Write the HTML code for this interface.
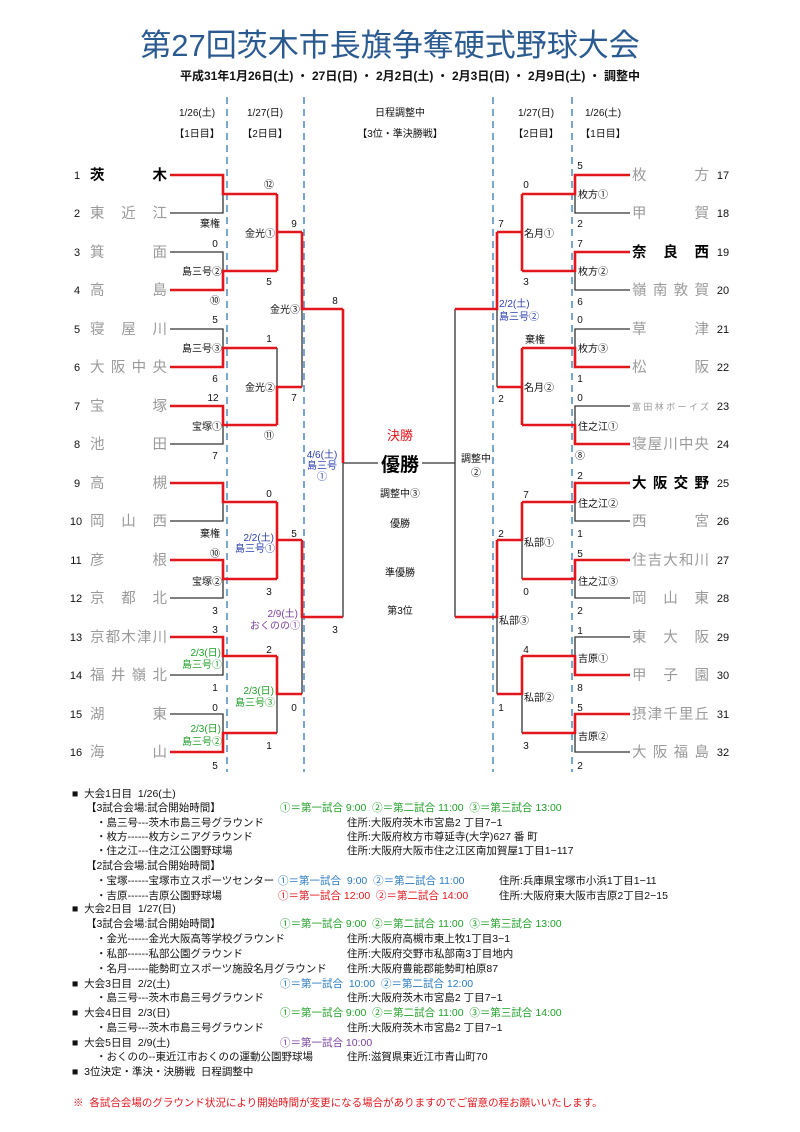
<!DOCTYPE html>
<html><head><meta charset="utf-8">
<style>
html,body{margin:0;padding:0;background:#fff;}
svg{display:block;}
text{font-family:"Liberation Sans","Noto Sans CJK JP",sans-serif;}
.s{font-size:10px;fill:#111;}
.l{font-size:10.5px;fill:#111;}
.l text{white-space:pre;}
.n{font-size:14.5px;fill:#9a9a9a;}
.nb{font-size:14.5px;fill:#000;font-weight:bold;}
.num{font-size:11px;fill:#111;}
.k{stroke:#333;stroke-width:1.3;fill:none;}
.r{stroke:#e3161c;stroke-width:2.6;fill:none;}
.d{stroke:#5b8fc7;stroke-width:1.6;stroke-dasharray:7,5;}
.bl{fill:#2a3fb0;font-size:10px;}
.gr{fill:#22a02a;font-size:10px;}
.pu{fill:#7a3fa0;font-size:10px;}
.g{fill:#22a02a;}
.b{fill:#2a7ac0;}
.rd{fill:#e3161c;}
.pp{fill:#7a3fa0;}
</style></head><body>
<svg width="800" height="1132" viewBox="0 0 800 1132" xmlns="http://www.w3.org/2000/svg">
<text x="390" y="56" text-anchor="middle" style="font-size:31px;fill:#2a5a8f;font-weight:normal">第27回茨木市長旗争奪硬式野球大会</text>
<text x="410" y="80" text-anchor="middle" style="font-size:12px;font-weight:bold;fill:#111">平成31年1月26日(土) ・ 27日(日) ・ 2月2日(土) ・ 2月3日(日) ・ 2月9日(土) ・ 調整中</text>

<g class="s" text-anchor="middle">
<text x="197" y="116">1/26(土)</text><text x="197" y="137">【1日目】</text>
<text x="265" y="116">1/27(日)</text><text x="265" y="137">【2日目】</text>
<text x="400" y="116">日程調整中</text><text x="400" y="137">【3位・準決勝戦】</text>
<text x="536" y="116">1/27(日)</text><text x="536" y="137">【2日目】</text>
<text x="603" y="116">1/26(土)</text><text x="603" y="137">【1日目】</text>
</g>

<line class="d" x1="227" y1="97" x2="227" y2="772"/>
<line class="d" x1="304" y1="97" x2="304" y2="772"/>
<line class="d" x1="493" y1="97" x2="493" y2="772"/>
<line class="d" x1="572" y1="97" x2="572" y2="772"/>

<g class="k">
<path d="M170 213H223V194"/><path d="M170 252H223V271"/><path d="M170 329H223V348"/><path d="M170 444H223V425"/>
<path d="M170 521H223V502"/><path d="M170 598H223V579"/><path d="M170 675H223V656"/><path d="M170 714H223V733"/>
<path d="M277 348V387"/><path d="M277 694V733"/>
<path d="M302 309V387"/><path d="M302 617V694"/>
<path d="M343 463V617"/><path d="M343 463H378"/>
<path d="M630 213H575V194"/><path d="M630 290H575V271"/><path d="M630 329H575V348"/><path d="M630 406H575V425"/>
<path d="M630 521H575V502"/><path d="M630 598H575V579"/><path d="M630 637H575V656"/><path d="M630 752H575V733"/>
<path d="M522 540V579"/><path d="M522 694V733"/>
<path d="M497 309V387"/><path d="M497 617V694"/>
<path d="M455 309V617"/><path d="M422 463H455"/>
</g>
<g class="r">
<path d="M170 175H223V194H277"/><path d="M170 290H223V271H277"/><path d="M170 367H223V348H277"/><path d="M170 406H223V425H277"/>
<path d="M170 483H223V502H277"/><path d="M170 560H223V579H277"/><path d="M170 637H223V656H277"/><path d="M170 752H223V733H277"/>
<path d="M277 194V271"/><path d="M277 232H302"/><path d="M277 425V387H302"/><path d="M277 502V579"/><path d="M277 540H302"/><path d="M277 656V694H302"/>
<path d="M302 232V309H343"/><path d="M302 540V617H343"/><path d="M343 309V463"/>
<path d="M630 175H575V194H522"/><path d="M630 252H575V271H522"/><path d="M630 367H575V348H522"/><path d="M630 444H575V425H522"/>
<path d="M630 483H575V502H522"/><path d="M630 560H575V579H522"/><path d="M630 675H575V656H522"/><path d="M630 714H575V733H522"/>
<path d="M522 194V271"/><path d="M522 232H497"/><path d="M522 348V425"/><path d="M522 387H497"/><path d="M522 502V540H497"/><path d="M522 656V694H497"/>
<path d="M497 232V309H455"/><path d="M497 540V617H455"/>
</g>

<g class="num" text-anchor="middle">
<text x="77" y="179">1</text><text x="77" y="217">2</text><text x="77" y="256">3</text><text x="77" y="294">4</text>
<text x="77" y="333">5</text><text x="77" y="371">6</text><text x="77" y="410">7</text><text x="77" y="448">8</text>
<text x="77" y="487">9</text><text x="76" y="525">10</text><text x="76" y="564">11</text><text x="76" y="602">12</text>
<text x="76" y="641">13</text><text x="76" y="679">14</text><text x="76" y="718">15</text><text x="76" y="756">16</text>
<text x="723" y="179">17</text><text x="723" y="217">18</text><text x="723" y="256">19</text><text x="723" y="294">20</text>
<text x="723" y="333">21</text><text x="723" y="371">22</text><text x="723" y="410">23</text><text x="723" y="448">24</text>
<text x="723" y="487">25</text><text x="723" y="525">26</text><text x="723" y="564">27</text><text x="723" y="602">28</text>
<text x="723" y="641">29</text><text x="723" y="679">30</text><text x="723" y="718">31</text><text x="723" y="756">32</text>
</g>
<g>
<text class="nb" x="90" y="180" textLength="77" lengthAdjust="spacing">茨木</text>
<text class="n" x="90" y="218" textLength="77" lengthAdjust="spacing">東近江</text>
<text class="n" x="90" y="257" textLength="77" lengthAdjust="spacing">箕面</text>
<text class="n" x="90" y="295" textLength="77" lengthAdjust="spacing">高島</text>
<text class="n" x="90" y="334" textLength="77" lengthAdjust="spacing">寝屋川</text>
<text class="n" x="90" y="372" textLength="77" lengthAdjust="spacing">大阪中央</text>
<text class="n" x="90" y="411" textLength="77" lengthAdjust="spacing">宝塚</text>
<text class="n" x="90" y="449" textLength="77" lengthAdjust="spacing">池田</text>
<text class="n" x="90" y="488" textLength="77" lengthAdjust="spacing">高槻</text>
<text class="n" x="90" y="526" textLength="77" lengthAdjust="spacing">岡山西</text>
<text class="n" x="90" y="565" textLength="77" lengthAdjust="spacing">彦根</text>
<text class="n" x="90" y="603" textLength="77" lengthAdjust="spacing">京都北</text>
<text class="n" x="90" y="642" textLength="77" lengthAdjust="spacing">京都木津川</text>
<text class="n" x="90" y="680" textLength="77" lengthAdjust="spacing">福井嶺北</text>
<text class="n" x="90" y="719" textLength="77" lengthAdjust="spacing">湖東</text>
<text class="n" x="90" y="757" textLength="77" lengthAdjust="spacing">海山</text>

<text class="n" x="632" y="180" textLength="77" lengthAdjust="spacing">枚方</text>
<text class="n" x="632" y="218" textLength="77" lengthAdjust="spacing">甲賀</text>
<text class="nb" x="632" y="257" textLength="77" lengthAdjust="spacing">奈良西</text>
<text class="n" x="632" y="295" textLength="77" lengthAdjust="spacing">嶺南敦賀</text>
<text class="n" x="632" y="334" textLength="77" lengthAdjust="spacing">草津</text>
<text class="n" x="632" y="372" textLength="77" lengthAdjust="spacing">松阪</text>
<text x="632" y="410" textLength="77" lengthAdjust="spacing" style="font-size:9px;fill:#9a9a9a">富田林ボーイズ</text>
<text class="n" x="632" y="449" textLength="77" lengthAdjust="spacing">寝屋川中央</text>
<text class="nb" x="632" y="488" textLength="77" lengthAdjust="spacing">大阪交野</text>
<text class="n" x="632" y="526" textLength="77" lengthAdjust="spacing">西宮</text>
<text class="n" x="632" y="565" textLength="77" lengthAdjust="spacing">住吉大和川</text>
<text class="n" x="632" y="603" textLength="77" lengthAdjust="spacing">岡山東</text>
<text class="n" x="632" y="642" textLength="77" lengthAdjust="spacing">東大阪</text>
<text class="n" x="632" y="680" textLength="77" lengthAdjust="spacing">甲子園</text>
<text class="n" x="632" y="719" textLength="77" lengthAdjust="spacing">摂津千里丘</text>
<text class="n" x="632" y="757" textLength="77" lengthAdjust="spacing">大阪福島</text>
</g>

<g class="s" text-anchor="middle">
<text x="269" y="188">⑫</text><text x="294" y="227">9</text><text x="215" y="247">0</text><text x="269" y="285">5</text>
<text x="215" y="304">⑩</text><text x="335" y="304">8</text><text x="215" y="323">5</text><text x="269" y="342">1</text>
<text x="215" y="382">6</text><text x="213" y="401">12</text><text x="294" y="401">7</text><text x="269" y="439">⑪</text>
<text x="215" y="459">7</text><text x="269" y="497">0</text><text x="294" y="537">5</text><text x="215" y="557">⑩</text>
<text x="269" y="595">3</text><text x="215" y="614">3</text><text x="335" y="633">3</text><text x="215" y="633">3</text>
<text x="269" y="653">2</text><text x="215" y="691">1</text><text x="294" y="711">0</text><text x="215" y="711">0</text>
<text x="269" y="749">1</text><text x="215" y="769">5</text>
</g>
<g class="s" text-anchor="end">
<text x="220" y="227">棄権</text><text x="220" y="537">棄権</text>
<text x="275" y="237">金光①</text><text x="222" y="275">島三号②</text><text x="300" y="313">金光③</text>
<text x="222" y="352">島三号③</text><text x="275" y="391">金光②</text><text x="222" y="430">宝塚①</text>
<text x="222" y="585">宝塚②</text>
</g>
<g text-anchor="middle"><text class="bl" x="322" y="458">4/6(土)</text><text class="bl" x="322" y="469">島三号</text><text class="bl" x="322" y="480">①</text></g>
<g text-anchor="end">
<text class="bl" x="274" y="541">2/2(土)</text><text class="bl" x="275" y="552">島三号①</text>
<text class="pu" x="298" y="617">2/9(土)</text><text class="pu" x="300" y="629">おくのの①</text>
<text class="gr" x="221" y="656">2/3(日)</text><text class="gr" x="222" y="668">島三号①</text>
<text class="gr" x="274" y="694">2/3(日)</text><text class="gr" x="275" y="706">島三号③</text>
<text class="gr" x="221" y="732">2/3(日)</text><text class="gr" x="222" y="745">島三号②</text>
</g>

<g class="s" text-anchor="middle">
<text x="580" y="169">5</text><text x="526" y="188">0</text><text x="580" y="227">2</text><text x="501" y="227">7</text>
<text x="580" y="247">7</text><text x="526" y="285">3</text><text x="580" y="305">6</text><text x="580" y="323">0</text>
<text x="580" y="382">1</text><text x="501" y="402">2</text><text x="580" y="401">0</text><text x="580" y="459">⑧</text>
<text x="580" y="479">2</text><text x="526" y="498">7</text><text x="580" y="537">1</text><text x="501" y="537">2</text>
<text x="580" y="557">5</text><text x="526" y="595">0</text><text x="580" y="614">2</text><text x="580" y="634">1</text>
<text x="526" y="653">4</text><text x="580" y="691">8</text><text x="501" y="711">1</text><text x="580" y="711">5</text>
<text x="526" y="749">3</text><text x="580" y="769">2</text>
<text x="476" y="462">調整中</text><text x="476" y="476">②</text>
</g>
<g class="s">
<text x="578" y="198">枚方①</text><text x="524" y="237">名月①</text><text x="578" y="275">枚方②</text>
<text x="525" y="343">棄権</text><text x="578" y="352">枚方③</text><text x="524" y="391">名月②</text>
<text x="578" y="430">住之江①</text><text x="578" y="507">住之江②</text><text x="524" y="546">私部①</text>
<text x="578" y="585">住之江③</text><text x="499" y="624">私部③</text><text x="578" y="662">吉原①</text>
<text x="524" y="701">私部②</text><text x="578" y="740">吉原②</text>
<text class="bl" x="499" y="307">2/2(土)</text><text class="bl" x="499" y="320">島三号②</text>
</g>

<g text-anchor="middle">
<text x="400" y="440" style="font-size:13px;fill:#e3161c">決勝</text>
<text x="400" y="471" style="font-size:19px;font-weight:bold;fill:#000">優勝</text>
<text class="s" x="400" y="497">調整中③</text>
<text class="s" x="400" y="527">優勝</text>
<text class="s" x="400" y="576">準優勝</text>
<text class="s" x="400" y="614">第3位</text>
</g>

<g class="l">
<text x="72" y="797">■  大会1日目  1/26(土)</text>
<text x="86" y="811">【3試合会場:試合開始時間】</text>
<text x="280" y="811" class="g">①＝第一試合 9:00  ②＝第二試合 11:00  ③＝第三試合 13:00</text>
<text x="96" y="826">・島三号---茨木市島三号グラウンド</text><text x="347" y="826">住所:大阪府茨木市宮島2 丁目7−1</text>
<text x="96" y="840">・枚方------枚方シニアグラウンド</text><text x="347" y="840">住所:大阪府枚方市尊延寺(大字)627 番 町</text>
<text x="96" y="854">・住之江---住之江公園野球場</text><text x="347" y="854">住所:大阪府大阪市住之江区南加賀屋1丁目1−117</text>
<text x="86" y="869">【2試合会場:試合開始時間】</text>
<text x="96" y="884">・宝塚------宝塚市立スポーツセンター</text><text x="278" y="884" class="b">①＝第一試合  9:00  ②＝第二試合 11:00</text><text x="499" y="884">住所:兵庫県宝塚市小浜1丁目1−11</text>
<text x="96" y="899">・吉原------吉原公園野球場</text><text x="278" y="899" class="rd">①＝第一試合 12:00  ②＝第二試合 14:00</text><text x="499" y="899">住所:大阪府東大阪市吉原2丁目2−15</text>
<text x="72" y="912">■  大会2日目  1/27(日)</text>
<text x="86" y="927">【3試合会場:試合開始時間】</text>
<text x="280" y="927" class="g">①＝第一試合 9:00  ②＝第二試合 11:00  ③＝第三試合 13:00</text>
<text x="96" y="942">・金光------金光大阪高等学校グラウンド</text><text x="347" y="942">住所:大阪府高槻市東上牧1丁目3−1</text>
<text x="96" y="957">・私部------私部公園グラウンド</text><text x="347" y="957">住所:大阪府交野市私部南3丁目地内</text>
<text x="96" y="972">・名月------能勢町立スポーツ施設名月グラウンド</text><text x="347" y="972">住所:大阪府豊能郡能勢町柏原87</text>
<text x="72" y="987">■  大会3日目  2/2(土)</text><text x="280" y="987" class="b">①＝第一試合  10:00  ②＝第二試合 12:00</text>
<text x="96" y="1001">・島三号---茨木市島三号グラウンド</text><text x="347" y="1001">住所:大阪府茨木市宮島2 丁目7−1</text>
<text x="72" y="1016">■  大会4日目  2/3(日)</text><text x="280" y="1016" class="g">①＝第一試合 9:00  ②＝第二試合 11:00  ③＝第三試合 14:00</text>
<text x="96" y="1031">・島三号---茨木市島三号グラウンド</text><text x="347" y="1031">住所:大阪府茨木市宮島2 丁目7−1</text>
<text x="72" y="1046">■  大会5日目  2/9(土)</text><text x="280" y="1046" class="pp">①＝第一試合 10:00</text>
<text x="96" y="1060">・おくのの--東近江市おくのの運動公園野球場</text><text x="347" y="1060">住所:滋賀県東近江市青山町70</text>
<text x="72" y="1075">■  3位決定・準決・決勝戦  日程調整中</text>
<text x="73" y="1106" class="rd">※  各試合会場のグラウンド状況により開始時間が変更になる場合がありますのでご留意の程お願いいたします。</text>
</g>
</svg>
</body></html>
